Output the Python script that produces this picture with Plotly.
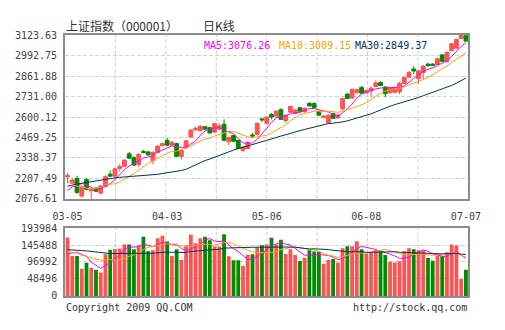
import plotly.graph_objects as go
import pandas as pd

# ---------------- data ----------------
dates = [
    "03-05", "03-06", "03-09", "03-10", "03-11", "03-12", "03-13", "03-16", "03-17", "03-18",
    "03-19", "03-20", "03-23", "03-24", "03-25", "03-26", "03-27", "03-30", "03-31",
    "04-01", "04-02", "04-03", "04-07", "04-08", "04-09", "04-10", "04-13", "04-14", "04-15",
    "04-16", "04-17", "04-20", "04-21", "04-22", "04-23", "04-24", "04-27", "04-28", "04-29", "04-30",
    "05-04", "05-05", "05-06", "05-07", "05-08", "05-11", "05-12", "05-13", "05-14", "05-15",
    "05-18", "05-19", "05-20", "05-21", "05-22", "05-25", "05-26", "05-27",
    "06-01", "06-02", "06-03", "06-04", "06-05", "06-08", "06-09", "06-10", "06-11", "06-12",
    "06-15", "06-16", "06-17", "06-18", "06-19", "06-22", "06-23", "06-24", "06-25", "06-26",
    "06-29", "06-30",
    "07-01", "07-02", "07-03", "07-06", "07-07",
]

opens = [
    2219, 2176, 2207, 2095, 2201, 2129, 2145, 2114, 2157, 2235,
    2222, 2272, 2284, 2365, 2340, 2297, 2380, 2377, 2321, 2374,
    2417, 2451, 2420, 2430, 2349, 2402, 2473, 2518, 2513, 2538,
    2532, 2504, 2523, 2554, 2442, 2482, 2451, 2386, 2399, 2485,
    2489, 2588, 2560, 2616, 2606, 2647, 2578, 2631, 2622, 2659,
    2634, 2687, 2687, 2634, 2597, 2563, 2622, 2594, 2653, 2746,
    2721, 2755, 2789, 2755, 2767, 2795, 2820, 2792, 2755, 2758,
    2761, 2814, 2854, 2907, 2845, 2885, 2938, 2938, 2935, 2997,
    2953, 3024, 3040, 3102, 3120,
]
highs = [
    2244, 2207, 2225, 2163, 2210, 2154, 2154, 2166, 2228, 2258,
    2275, 2300, 2331, 2377, 2349, 2368, 2389, 2383, 2380, 2420,
    2436, 2466, 2448, 2436, 2392, 2454, 2523, 2535, 2547, 2544,
    2538, 2563, 2560, 2585, 2473, 2486, 2454, 2414, 2445, 2498,
    2566, 2597, 2603, 2625, 2643, 2656, 2615, 2671, 2653, 2665,
    2659, 2696, 2693, 2640, 2612, 2615, 2628, 2622, 2724, 2755,
    2786, 2783, 2798, 2777, 2795, 2835, 2829, 2798, 2792, 2795,
    2826, 2863, 2894, 2925, 2901, 2932, 2947, 2944, 2981, 3000,
    3021, 3071, 3099, 3123.63, 3121,
]
lows = [
    2176, 2170, 2110, 2086, 2132, 2076.61, 2120, 2104, 2151, 2216,
    2219, 2253, 2281, 2331, 2287, 2281, 2368, 2355, 2297, 2371,
    2411, 2414, 2417, 2346, 2328, 2399, 2467, 2510, 2510, 2516,
    2495, 2498, 2516, 2445, 2420, 2442, 2396, 2377, 2396, 2467,
    2482, 2569, 2554, 2585, 2603, 2582, 2563, 2628, 2616, 2634,
    2628, 2668, 2656, 2609, 2591, 2557, 2588, 2588, 2643, 2715,
    2718, 2752, 2749, 2752, 2727, 2792, 2798, 2727, 2749, 2752,
    2746, 2811, 2851, 2873, 2814, 2842, 2922, 2925, 2932, 2953,
    2950, 3021, 3037, 3099, 3082,
]
closes = [
    2225, 2197, 2117, 2154, 2139, 2139, 2126, 2160, 2219, 2222,
    2269, 2284, 2324, 2337, 2293, 2362, 2374, 2358, 2374, 2414,
    2430, 2420, 2439, 2349, 2386, 2448, 2516, 2529, 2541, 2523,
    2498, 2557, 2544, 2451, 2470, 2445, 2399, 2408, 2439, 2479,
    2560, 2582, 2600, 2600, 2637, 2585, 2612, 2668, 2644, 2637,
    2656, 2671, 2659, 2612, 2606, 2612, 2591, 2612, 2718, 2718,
    2775, 2774, 2752, 2770, 2785, 2818, 2801, 2749, 2786, 2789,
    2815, 2852, 2884, 2894, 2894.6, 2925, 2928, 2929, 2972, 2956.2,
    3012, 3068, 3096, 3120.3, 3085,
]
volumes = [
    167000, 114000, 114000, 77600, 94500, 80400, 74800, 67000, 119200, 132100,
    134400, 135800, 146900, 146900, 133500, 144100, 169000, 127500, 130600, 165000,
    171800, 155200, 114000, 133000, 102500, 144100, 174600, 150600, 164500, 169000,
    159300, 141000, 141000, 176349, 113600, 102000, 102000, 86300, 117300, 119000,
    138600, 144500, 146900, 166300, 146900, 160700, 120000, 133400, 117000, 99800,
    109000, 130200, 127000, 126000, 91800, 102500, 105700, 95600, 136200, 141700,
    141700, 156000, 133000, 120500, 123000, 131000, 129000, 117200, 97400, 95600,
    98800, 127500, 136000, 133400, 130200, 130000, 108100, 100200, 115500, 113600,
    125100, 146900, 144100, 48500, 74800,
]
# sessions before 03-05 (needed for the moving averages at the left edge)
prior_closes = [
    1954, 1955, 1986, 1976, 1978, 1991, 2012, 2061, 2108, 2115,
    2181, 2251, 2265, 2261, 2250, 2320, 2389, 2320, 2210, 2262,
    2307, 2317, 2200, 2201, 2207, 2083, 2094, 2071, 2183,
]
prior_volumes = [
    118000, 125000, 132000, 128000, 121000, 139000, 146000, 152000, 141000, 128000,
    137000, 149000, 158000, 134000, 126000, 145000, 139000, 128000, 124000, 124000,
    142000, 128000, 137000, 131000, 128000, 98000, 104000, 112000, 119000,
]

price_ticks = ["2076.61", "2207.49", "2338.37", "2469.25", "2600.12",
               "2731.00", "2861.88", "2992.75", "3123.63"]
volume_ticks = ["0", "48496", "96992", "145488", "193984"]
date_ticks = ["03-05", "04-03", "05-06", "06-08", "07-07"]
ma_periods = [5, 10, 30]

# ---------------- styles ----------------
RED = "#FF5252"
GREEN = "#008C00"
MA_COLORS = {5: "#FF00FF", 10: "#FFA500", 30: "#003366"}
FRAME = "#8C8C8C"
GRID = "#D2D2D2"
MONO = "DejaVu Sans Mono"
W, H = 505, 330

npre = len(prior_closes)
cs = pd.Series(prior_closes + closes)
vs = pd.Series(prior_volumes + volumes)
ma_price = {n: cs.rolling(n).mean().iloc[npre:].tolist() for n in ma_periods}
ma_vol = {n: vs.rolling(n).mean().iloc[len(prior_volumes):].tolist() for n in ma_periods}

fig = go.Figure()
fig.add_trace(go.Candlestick(
    x=dates, open=opens, high=highs, low=lows, close=closes,
    increasing=dict(line=dict(color=RED, width=1), fillcolor=RED),
    decreasing=dict(line=dict(color=GREEN, width=1), fillcolor=GREEN),
    whiskerwidth=0, xaxis="x", yaxis="y", hoverinfo="skip", showlegend=False))
for n in ma_periods:
    fig.add_trace(go.Scatter(x=dates, y=ma_price[n], mode="lines",
                             line=dict(color=MA_COLORS[n], width=1),
                             xaxis="x", yaxis="y", hoverinfo="skip", showlegend=False))

vol_colors = [RED if c > o else GREEN for o, c in zip(opens, closes)]
fig.add_trace(go.Bar(x=dates, y=volumes, marker=dict(color=vol_colors, line=dict(width=0)),
                     width=0.8, xaxis="x2", yaxis="y2", hoverinfo="skip", showlegend=False))
for n in ma_periods:
    fig.add_trace(go.Scatter(x=dates, y=ma_vol[n], mode="lines",
                             line=dict(color=MA_COLORS[n], width=1),
                             xaxis="x2", yaxis="y2", hoverinfo="skip", showlegend=False))

xdom = [55 / W, 480 / W]
tickfont = dict(family=MONO, size=10, color="#444444")
frame = dict(showline=True, mirror=True, linecolor=FRAME, linewidth=2)
hidden_ticks = dict(ticks="outside", tickcolor="rgba(0,0,0,0)")

fig.update_layout(
    width=W, height=H, margin=dict(l=0, r=0, t=0, b=0),
    paper_bgcolor="white", plot_bgcolor="white", showlegend=False,
    boxgap=0.2, boxgroupgap=0,
    xaxis=dict(domain=xdom, type="category", range=[-0.5, len(dates) - 0.5],
               tickvals=date_ticks, ticktext=date_ticks, showgrid=False,
               ticklen=7, tickfont=tickfont, rangeslider=dict(visible=False), anchor="y",
               **hidden_ticks, **frame),
    yaxis=dict(domain=[1 - 200 / H, 1 - 31 / H], range=[float(price_ticks[0]), float(price_ticks[-1])],
               tickvals=[float(t) for t in price_ticks], ticktext=price_ticks,
               showgrid=True, gridcolor=GRID, griddash="4px,2px", gridwidth=1,
               zeroline=False, ticklen=4, tickfont=tickfont, anchor="x",
               **hidden_ticks, **frame),
    xaxis2=dict(domain=xdom, type="category", range=[-0.5, len(dates) - 0.5],
                showticklabels=False, showgrid=False, ticks="", anchor="y2", **frame),
    yaxis2=dict(domain=[1 - 300 / H, 1 - 230 / H], range=[0, float(volume_ticks[-1])],
                tickvals=[float(t) for t in volume_ticks], ticktext=volume_ticks,
                showgrid=True, gridcolor=GRID, griddash="4px,2px", gridwidth=1,
                zeroline=False, ticklen=4, tickfont=tickfont, anchor="x2",
                **hidden_ticks, **frame),
)

for xr, yr in (("x domain", "y domain"), ("x2 domain", "y2 domain")):
    for k in range(1, 8):
        fig.add_shape(type="line", xref=xr, yref=yr, x0=k / 8, x1=k / 8, y0=0, y1=1,
                      line=dict(color=GRID, width=1, dash="4px,2px"), layer="below")

def ann(text, x, y, color, size=10, family=MONO, xanchor="left"):
    fig.add_annotation(text=text, x=x / W, y=1 - y / H, xref="paper", yref="paper",
                       xanchor=xanchor, yanchor="middle", showarrow=False,
                       font=dict(family=family, size=size, color=color))

ann("上证指数（000001）", 54, 21, "#333333", size=12, family="Noto Sans CJK SC")
ann("日K线", 217, 21, "#333333", size=12, family="Noto Sans CJK SC", xanchor="center")
ann(f"MA5:{ma_price[5][-1]:.2f}", 199, 41.5, MA_COLORS[5])
ann(f"MA10:{ma_price[10][-1]:.2f}", 278, 41.5, MA_COLORS[10])
ann(f"MA30:{ma_price[30][-1]:.2f}", 358, 41.5, MA_COLORS[30])
ann("Copyright 2009 QQ.COM", 54, 311.5, "#333333")
ann("http://stock.qq.com", 481, 311.5, "#333333", xanchor="right")

fig.write_html("out.html")
